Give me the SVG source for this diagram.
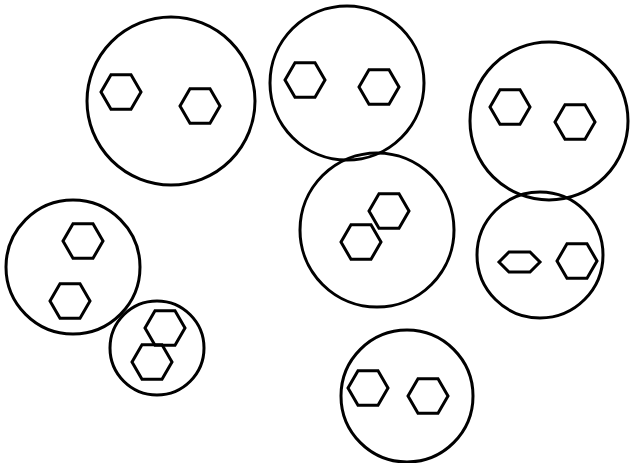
<svg xmlns="http://www.w3.org/2000/svg" xmlns:xlink="http://www.w3.org/1999/xlink" width="630" height="463" viewBox="0 0 630 463">
<style>
.c{fill:none;stroke:#000;stroke-width:3}
.h{fill:none;stroke:#000;stroke-width:3;stroke-linejoin:miter}
</style>
<defs>
<polygon id="hex" class="h" points="-20,0 -10,-17.3 10,-17.3 20,0 10,17.3 -10,17.3"/>
</defs>
<rect width="630" height="463" fill="#fff"/>
<g id="cell1"><circle class="c" cx="171" cy="101" r="84"/><use xlink:href="#hex" x="121" y="92"/><use xlink:href="#hex" x="200" y="106"/></g>
<g id="cell2"><circle class="c" cx="347" cy="83" r="77"/><use xlink:href="#hex" x="305" y="80"/><use xlink:href="#hex" x="379" y="87"/></g>
<g id="cell3"><circle class="c" cx="549" cy="121" r="79"/><use xlink:href="#hex" x="510" y="107"/><use xlink:href="#hex" x="575" y="122"/></g>
<g id="cell4"><circle class="c" cx="377" cy="230" r="77"/><use xlink:href="#hex" x="389" y="211"/><use xlink:href="#hex" x="361" y="242"/></g>
<g id="cell5"><circle class="c" cx="540" cy="255" r="63"/><polygon class="h" points="499,262 509,252 530,252 540,262 530,272 509,272"/><use xlink:href="#hex" x="577" y="261"/></g>
<g id="cell6"><circle class="c" cx="73" cy="267" r="67"/><use xlink:href="#hex" x="83" y="241"/><use xlink:href="#hex" x="70" y="301"/></g>
<g id="cell7"><circle class="c" cx="157" cy="348" r="47"/><use xlink:href="#hex" x="165" y="328"/><use xlink:href="#hex" x="152" y="362"/></g>
<g id="cell8"><circle class="c" cx="407" cy="396" r="66"/><use xlink:href="#hex" x="368" y="388"/><use xlink:href="#hex" x="428" y="396"/></g>
</svg>
